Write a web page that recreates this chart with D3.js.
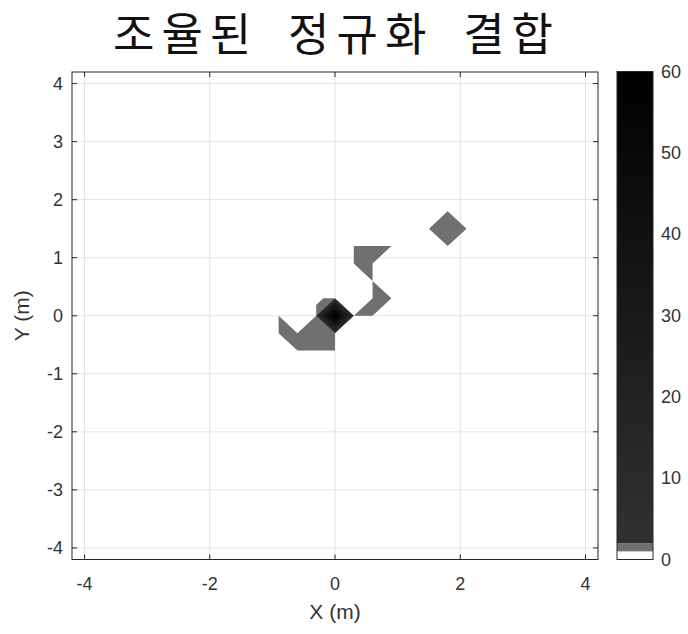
<!DOCTYPE html>
<html>
<head>
<meta charset="utf-8">
<script src="https://cdn.jsdelivr.net/npm/d3@7"></script>
<style>
  body { margin: 0; background: #fff; }
  svg text { font-family: "Liberation Sans", Arial, sans-serif; fill: #333; }
</style>
</head>
<body>
<svg id="chart" width="688" height="634"></svg>
<script>
// Sampled field on a regular grid (node spacing in metres). Nodes not listed carry no sample.
const STEP = 0.3;
const GRID_MIN = -14, GRID_MAX = 14;          // node index range, i.e. -4.2 .. 4.2 m

// node column index (x = i * STEP), row index (y = j * STEP) and sampled value
const nodeI = [ 6,  5,  7,  6,  6,
                1,  2,  1,  2,  3,  2,  2,  3,  2,  1,
               -3, -3, -2, -2, -1,  0, -1,  0, -1,  0, -1,  0];
const nodeJ = [ 5,  5,  5,  4,  6,
                3,  3,  4,  4,  4,  2,  1,  1,  0,  0,
                0, -1, -1, -2, -2, -2, -1, -1,  0,  0,  1,  1];
const nodeValue = [1.6, 1.5, 1.5, 1.5, 1.5,
                   1.5, 1.5, 1.4, 1.5, 1.5, 1.6, 1.5, 1.5, 1.5, 1.5,
                   1.4, 1.5, 1.5, 1.5, 1.6, 1.5, 1.6, 1.5, 1.8, 60, 0.5, 1.8];

// filled-contour levels and colourbar ticks
const levels = [1, 2, 10, 20, 30, 40, 50, 60];
const xTicks = [-4, -2, 0, 2, 4];
const yTicks = [-4, -3, -2, -1, 0, 1, 2, 3, 4];
const cbTicks = [0, 10, 20, 30, 40, 50, 60];

const titleWords = ["조율된", "정규화", "결합"];
const xLabel = "X (m)", yLabel = "Y (m)";

// ---- layout ----
const svg = d3.select("#chart");
const plot = { left: 72, right: 598, top: 72, bottom: 559.5 };
const cbar = { left: 617, right: 653, top: 71.5, bottom: 559.5 };

const x = d3.scaleLinear().domain([-4.2, 4.2]).range([plot.left, plot.right]);
const y = d3.scaleLinear().domain([-4.2, 4.2]).range([plot.bottom, plot.top]);
const cb = d3.scaleLinear().domain([0, 60]).range([cbar.bottom, cbar.top]);

// colour map: white below 1, mid grey 1..2, then dark grey fading to black
const GREY = "#707070";
const dark = d3.scaleLinear().domain([2, 60]).range(["#313131", "#000000"]);
function bandColor(lo, hi) { return lo < 2 ? GREY : dark(hi); }

// ---- field lookup ----
const field = new Map();
nodeI.forEach((i, k) => field.set(i + "," + nodeJ[k], nodeValue[k]));
const val = (i, j) => field.has(i + "," + j) ? field.get(i + "," + j) : NaN;

// split every grid cell into triangles over its valid corners
const triangles = [];
for (let i = GRID_MIN; i < GRID_MAX; i++) {
  for (let j = GRID_MIN; j < GRID_MAX; j++) {
    const c = [[i, j], [i + 1, j], [i + 1, j + 1], [i, j + 1]]
      .map(([a, b]) => ({ x: a, y: b, v: val(a, b) }));
    const ok = c.filter(p => isFinite(p.v));
    if (ok.length === 4) {
      const m = d3.mean(c, p => p.v);
      const k = d3.maxIndex(c, p => Math.abs(p.v - m));
      if (k === 0 || k === 2) {
        triangles.push([c[0], c[1], c[3]], [c[1], c[2], c[3]]);
      } else {
        triangles.push([c[0], c[1], c[2]], [c[0], c[2], c[3]]);
      }
    } else if (ok.length === 3) {
      triangles.push(ok);
    }
  }
}

// keep the part of a polygon (linear values at vertices) at or above a level
function clipAbove(poly, level) {
  const out = [];
  for (let n = 0; n < poly.length; n++) {
    const p = poly[n], q = poly[(n + 1) % poly.length];
    const pin = p.v >= level, qin = q.v >= level;
    if (pin) out.push(p);
    if (pin !== qin) {
      const t = (level - p.v) / (q.v - p.v);
      out.push({ x: p.x + t * (q.x - p.x), y: p.y + t * (q.y - p.y), v: level });
    }
  }
  return out;
}

// ---- grid lines ----
const g = svg.append("g").attr("stroke", "#e3e3e3").attr("stroke-width", 1);
g.selectAll("line.gx").data(xTicks).join("line").attr("class", "gx")
  .attr("x1", d => x(d)).attr("x2", d => x(d))
  .attr("y1", plot.top).attr("y2", plot.bottom);
g.selectAll("line.gy").data(yTicks).join("line").attr("class", "gy")
  .attr("y1", d => y(d)).attr("y2", d => y(d))
  .attr("x1", plot.left).attr("x2", plot.right);

// ---- filled contours: each level's region (value >= level) painted over the previous ----
const bands = d3.range(levels.length - 1).map(k => ({ lo: levels[k], hi: levels[k + 1] }));
svg.append("g").selectAll("path").data(bands).join("path")
  .attr("fill", b => bandColor(b.lo, b.hi))
  .attr("d", b => {
    const path = d3.path();
    triangles.forEach(tri => {
      const poly = clipAbove(tri, b.lo);
      if (poly.length < 3) return;
      poly.forEach((p, n) => {
        const px = x(p.x * STEP), py = y(p.y * STEP);
        n ? path.lineTo(px, py) : path.moveTo(px, py);
      });
      path.closePath();
    });
    return path.toString();
  });

// ---- axes box and inward ticks ----
svg.append("rect")
  .attr("x", plot.left).attr("y", plot.top)
  .attr("width", plot.right - plot.left).attr("height", plot.bottom - plot.top)
  .attr("fill", "none").attr("stroke", "#262626").attr("stroke-width", 1);

const tl = 5;
const ticks = svg.append("g").attr("stroke", "#262626").attr("stroke-width", 1);
xTicks.forEach(d => {
  ticks.append("line").attr("x1", x(d)).attr("x2", x(d)).attr("y1", plot.bottom).attr("y2", plot.bottom - tl);
  ticks.append("line").attr("x1", x(d)).attr("x2", x(d)).attr("y1", plot.top).attr("y2", plot.top + tl);
});
yTicks.forEach(d => {
  ticks.append("line").attr("y1", y(d)).attr("y2", y(d)).attr("x1", plot.left).attr("x2", plot.left + tl);
  ticks.append("line").attr("y1", y(d)).attr("y2", y(d)).attr("x1", plot.right).attr("x2", plot.right - tl);
});

// tick labels
svg.append("g").selectAll("text").data(xTicks).join("text")
  .attr("x", d => x(d)).attr("y", 590)
  .attr("text-anchor", "middle").attr("font-size", 18)
  .text(d => d);
svg.append("g").selectAll("text").data(yTicks).join("text")
  .attr("x", 63).attr("y", d => y(d)).attr("dy", "0.35em")
  .attr("text-anchor", "end").attr("font-size", 18)
  .text(d => d);

// axis titles
svg.append("text").attr("x", x(0)).attr("y", 619)
  .attr("text-anchor", "middle").attr("font-size", 21).text(xLabel);
svg.append("text")
  .attr("transform", `translate(29,${y(0)}) rotate(-90)`)
  .attr("text-anchor", "middle").attr("font-size", 21).text(yLabel);

// chart title: glyphs spaced out, word gaps sized so the line spans 440 px
const TITLE_WIDTH = 440, TITLE_LS = 7;
const title = svg.append("text").attr("x", 333).attr("y", 51)
  .attr("text-anchor", "middle")
  .style("font-family", "'Noto Sans CJK KR', sans-serif")
  .style("fill", "#111")
  .attr("font-size", 45)
  .attr("letter-spacing", TITLE_LS)
  .text(titleWords.join(" "));
const natural = title.node().getComputedTextLength() - TITLE_LS;
const ws = Math.max(0, (TITLE_WIDTH - natural) / (titleWords.length - 1));
title.attr("word-spacing", ws).attr("x", 333 + TITLE_LS / 2);

// ---- colourbar ----
const defs = svg.append("defs");
const grad = defs.append("linearGradient").attr("id", "cbGrad")
  .attr("x1", 0).attr("x2", 0).attr("y1", 1).attr("y2", 0);
grad.append("stop").attr("offset", 0).attr("stop-color", dark(2));
grad.append("stop").attr("offset", 1).attr("stop-color", dark(60));

const cbw = cbar.right - cbar.left;
svg.append("rect").attr("x", cbar.left).attr("y", cb(1)).attr("width", cbw)
  .attr("height", cb(0) - cb(1)).attr("fill", "#fff");
svg.append("rect").attr("x", cbar.left).attr("y", cb(2)).attr("width", cbw)
  .attr("height", cb(1) - cb(2)).attr("fill", GREY);
svg.append("rect").attr("x", cbar.left).attr("y", cb(60)).attr("width", cbw)
  .attr("height", cb(2) - cb(60)).attr("fill", "url(#cbGrad)");
svg.append("rect").attr("x", cbar.left).attr("y", cbar.top).attr("width", cbw)
  .attr("height", cbar.bottom - cbar.top)
  .attr("fill", "none").attr("stroke", "#262626").attr("stroke-width", 1);

svg.append("g").selectAll("text").data(cbTicks).join("text")
  .attr("x", 661).attr("y", d => cb(d)).attr("dy", "0.35em")
  .attr("font-size", 18)
  .text(d => d);
</script>
</body>
</html>
